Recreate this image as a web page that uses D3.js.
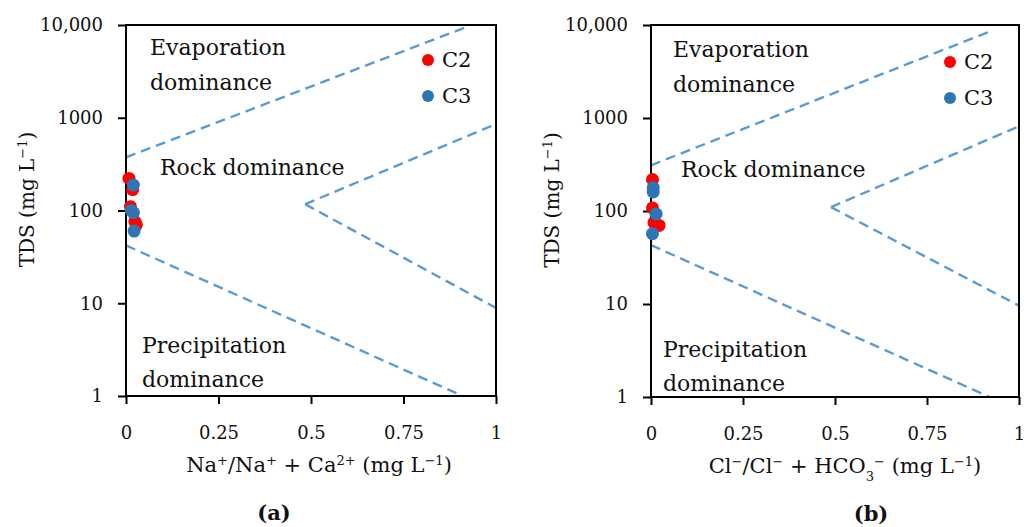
<!DOCTYPE html>
<html>
<head>
<meta charset="utf-8">
<script src="https://cdn.jsdelivr.net/npm/d3@7"></script>
<style>
  html, body { margin: 0; padding: 0; background: #fff; }
  svg text { font-family: "DejaVu Serif", serif; fill: #111; }
</style>
</head>
<body>
<svg id="chart" width="1024" height="527"></svg>
<script>
// y ticks (TDS, log scale) and x ticks (ratio)
const yTicks = [1, 10, 100, 1000, 10000];
const xTicks = [0, 0.25, 0.5, 0.75, 1];
const seriesNames = ["C2", "C3"];

// Gibbs boundary lines, [ratio, TDS]
const boundaryA = [
  [[0, 375], [0.92, 9500]],
  [[0.484, 117], [1, 855]],
  [[0.484, 117], [1, 8.9]],
  [[0, 42], [0.91, 1]],
];
const boundaryB = [
  [[0, 310], [0.93, 8800]],
  [[0.489, 110], [1, 815]],
  [[0.489, 110], [1, 9.6]],
  [[0, 43], [0.92, 1]],
];

// samples: (a) Na+/(Na+ + Ca2+) vs TDS
const c2A = [[0.008, 222], [0.018, 168], [0.012, 110], [0.024, 76], [0.028, 70]];
const c3A = [[0.02, 188], [0.014, 100], [0.02, 95], [0.022, 60]];
// samples: (b) Cl-/(Cl- + HCO3-) vs TDS
const c2B = [[0.004, 218], [0.004, 108], [0.008, 75], [0.022, 70]];
const c3B = [[0.006, 178], [0.006, 160], [0.014, 93], [0.004, 57]];

const COLORS = { C2: "#ff0000", C3: "#2e75b6", line: "#5b9bd5" };

const svg = d3.select("#chart");

function sup(t, s) {
  t.append("tspan").attr("font-size", 13).attr("baseline-shift", "super").text(s);
}
function sub(t, s) {
  t.append("tspan").attr("font-size", 13).attr("baseline-shift", "sub").text(s);
}

function drawPanel(p) {
  const x = d3.scaleLinear().domain([0, 1]).range([p.left, p.right]);
  const y = d3.scaleLog().domain([1, 10000]).range([p.bottom, p.top]);
  const g = svg.append("g");

  // boundary lines
  const line = d3.line().x((d) => x(d[0])).y((d) => y(d[1]));
  g.selectAll("path.bound")
    .data(p.bounds)
    .join("path")
    .attr("class", "bound")
    .attr("d", line)
    .attr("fill", "none")
    .attr("stroke", COLORS.line)
    .attr("stroke-width", 2.4)
    .attr("stroke-dasharray", "10,6");

  // axes
  const yAxis = g.append("g")
    .attr("transform", `translate(${p.left},0)`)
    .call(d3.axisLeft(y).tickValues(yTicks).tickSize(8).tickPadding(15)
      .tickFormat((d) => (d === 10000 ? "10,000" : String(d))));
  const xAxis = g.append("g")
    .attr("transform", `translate(0,${p.bottom})`)
    .call(d3.axisBottom(x).tickValues(xTicks).tickSize(8).tickPadding(22)
      .tickFormat((d) => String(d)));
  [yAxis, xAxis].forEach((a) => {
    a.select(".domain").remove();
    a.selectAll(".tick line").attr("stroke", "#000").attr("stroke-width", 2);
    a.selectAll(".tick text").attr("font-size", 18).attr("font-family", "DejaVu Serif").attr("fill", "#111");
  });

  g.append("rect")
    .attr("x", p.left).attr("y", p.top)
    .attr("width", p.right - p.left).attr("height", p.bottom - p.top)
    .attr("fill", "none").attr("stroke", "#000").attr("stroke-width", 2);

  // region labels
  const lab = (tx, ty, t) =>
    g.append("text").attr("x", p.left + tx).attr("y", ty).attr("font-size", 22).text(t);
  lab(p.evapDx, p.evapY, "Evaporation");
  lab(p.evapDx, p.evapY + 35, "dominance");
  lab(p.rockDx, p.rockY, "Rock dominance");
  lab(p.precDx, p.precY, "Precipitation");
  lab(p.precDx, p.precY + 34, "dominance");

  // samples
  const series = [
    { name: "C2", pts: p.c2 },
    { name: "C3", pts: p.c3 },
  ];
  series.forEach((s) => {
    g.selectAll(`circle.${s.name}`)
      .data(s.pts)
      .join("circle")
      .attr("class", s.name)
      .attr("cx", (d) => x(d[0]))
      .attr("cy", (d) => y(d[1]))
      .attr("r", 6.5)
      .attr("fill", COLORS[s.name]);
  });

  // legend
  const leg = g.append("g").attr("transform", `translate(${p.legX},${p.legY})`);
  seriesNames.forEach((n, i) => {
    leg.append("circle").attr("cx", 0).attr("cy", i * 36).attr("r", 6).attr("fill", COLORS[n]);
    leg.append("text").attr("x", 14).attr("y", i * 36 + 7).attr("font-size", 21).text(n);
  });

  // y title
  const yt = g.append("text")
    .attr("transform", `translate(${p.left - 92},${(p.top + p.bottom) / 2 - 11}) rotate(-90)`)
    .attr("text-anchor", "middle")
    .attr("font-size", 20);
  yt.append("tspan").text("TDS (mg L");
  sup(yt, "\u22121");
  yt.append("tspan").text(")");

  // x title
  const xt = g.append("text")
    .attr("x", (p.left + p.right) / 2 + p.xtDx)
    .attr("y", p.bottom + 76)
    .attr("text-anchor", "middle")
    .attr("font-size", 21);
  p.xTitle(xt);

  svg.append("text")
    .attr("x", (p.left + p.right) / 2 + p.capDx)
    .attr("y", p.bottom + 124)
    .attr("text-anchor", "middle")
    .attr("font-size", 21)
    .attr("font-weight", "bold")
    .text(p.caption);
}

drawPanel({
  left: 126, right: 496, top: 25, bottom: 396,
  bounds: boundaryA, c2: c2A, c3: c3A,
  evapDx: 24, evapY: 55, rockDx: 34, rockY: 175, precDx: 16, precY: 353,
  legX: 428, legY: 60,
  xtDx: 8, capDx: -37, caption: "(a)",
  xTitle: (t) => {
    t.append("tspan").text("Na");
    sup(t, "+");
    t.append("tspan").text("/Na");
    sup(t, "+");
    t.append("tspan").text(" + Ca");
    sup(t, "2+");
    t.append("tspan").text(" (mg L");
    sup(t, "\u22121");
    t.append("tspan").text(")");
  },
});

drawPanel({
  left: 651, right: 1019, top: 25, bottom: 397,
  bounds: boundaryB, c2: c2B, c3: c3B,
  evapDx: 22, evapY: 57, rockDx: 30, rockY: 177, precDx: 12, precY: 357,
  legX: 950, legY: 62,
  xtDx: 10, capDx: 36, caption: "(b)",
  xTitle: (t) => {
    t.append("tspan").text("Cl");
    sup(t, "\u2212");
    t.append("tspan").text("/Cl");
    sup(t, "\u2212");
    t.append("tspan").text(" + HCO");
    sub(t, "3");
    sup(t, "\u2212");
    t.append("tspan").text(" (mg L");
    sup(t, "\u22121");
    t.append("tspan").text(")");
  },
});
</script>
</body>
</html>
